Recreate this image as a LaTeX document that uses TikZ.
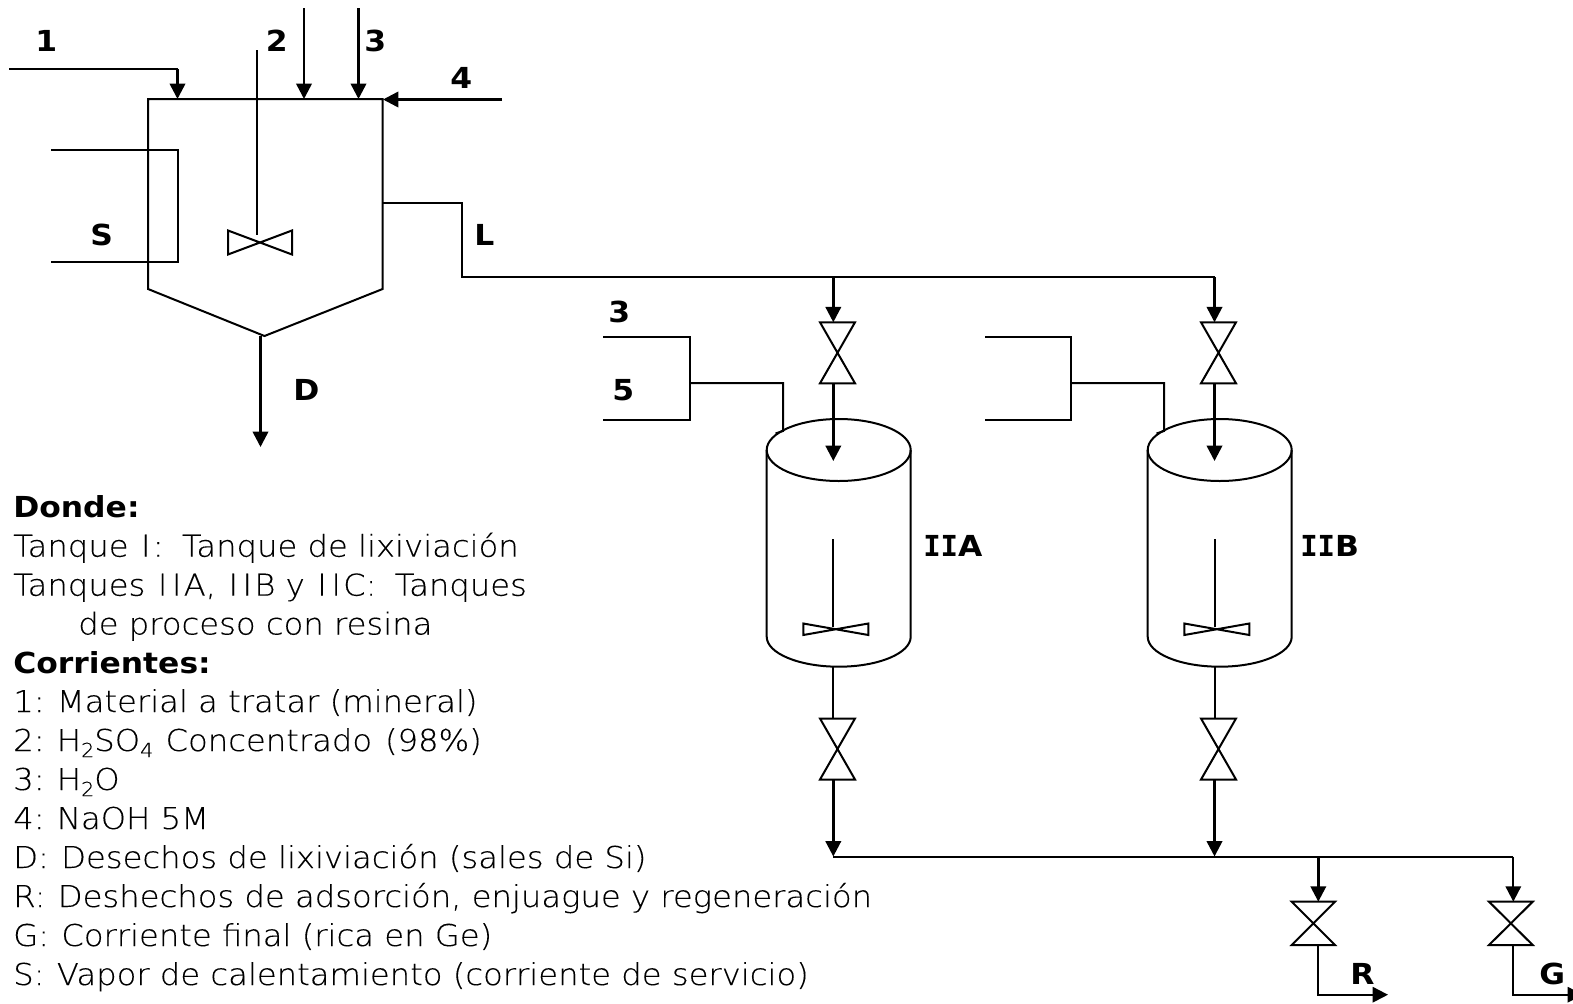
\documentclass[tikz,border=0pt]{standalone}
\usepackage{fontspec}
\usetikzlibrary{arrows.meta}
\setmainfont[FakeStretch=1.07,FakeBold=0.17]{DejaVu Sans ExtraLight}
\newfontfamily\boldf[FakeStretch=1.085]{DejaVu Sans Bold}
\newfontfamily\monob{DejaVu Sans Mono Bold}
\newcommand{\sbs}[1]{\raisebox{-.2em}{\fontsize{14.5}{15}\selectfont #1}}
\newcommand{\serifI}{{\monob I}}
\newcommand{\wI}{\kern1.7pt I\kern1.7pt}
\newcommand{\gp}{\ \kern1.5pt}
\newcommand{\gpw}{\ \kern6pt}
\tikzset{
  lbl/.style={inner sep=0pt,anchor=base west,font=\boldf\fontsize{21.7}{26}\selectfont},
  leg/.style={inner sep=0pt,anchor=base west,font=\fontsize{22.6}{27}\selectfont},
  legb/.style={inner sep=0pt,anchor=base west,font=\boldf\fontsize{21.7}{26}\selectfont},
  line/.style={line width=1.5pt,line join=miter},
  thinl/.style={line width=1.35pt},
  flow/.style={line width=1.9pt,-{Triangle[length=11.5pt,width=11.5pt]}},
  flowl/.style={line width=1.5pt,-{Triangle[length=11.5pt,width=11.5pt]}}
}
\newcommand{\valve}[5]{% name, left, right, top, bottom
  \draw[line] (#2,#4) -- (#3,#4) -- (#2,#5) -- (#3,#5) -- cycle;
  \coordinate (#1-t) at ({(#2+#3)/2},#4);
  \coordinate (#1-b) at ({(#2+#3)/2},#5);}
\begin{document}
\begin{tikzpicture}[x=0.75pt,y=-0.75pt]
\useasboundingbox (0,0) rectangle (1573,1003);
\clip (0,0) rectangle (1573,1003);
% Tank I
\coordinate (ta) at (148,99); \coordinate (tb) at (382.6,99);
\coordinate (tc) at (382.6,289); \coordinate (td) at (264.5,336);
\coordinate (te) at (148,289);
\draw[line] (ta) -- (tb) -- (tc) -- (td) -- (te) -- cycle;
% feeds
\coordinate (s1) at (9,69); \coordinate (k1) at (177.5,69); \coordinate (e1) at (177.5,99);
\draw[line] (s1) -- (k1);
\draw[flow] (k1) -- (e1);
\coordinate (s2) at (304,8); \coordinate (e2) at (304,99);
\draw[flow] (s2) -- (e2);
\coordinate (s3) at (358.5,8); \coordinate (e3) at (358.5,99);
\draw[flow] (s3) -- (e3);
\coordinate (s4) at (502,99.5); \coordinate (e4) at (383,99.5);
\draw[flow] (s4) -- (e4);
% shaft and impeller
\coordinate (sh1) at (257,50); \coordinate (sh2) at (257,235);
\draw[thinl] (sh1) -- (sh2);
\draw[line] (228,230.5) -- (292,254.5) -- (292,230.5) -- (228,254.5) -- cycle;
% S coil
\coordinate (c1) at (51,149.5); \coordinate (c2) at (177.5,149.5);
\coordinate (c3) at (177.5,261.5); \coordinate (c4) at (51,261.5);
\draw[line] (c1) -- (c2) -- (c3) -- (c4);
% outlet D
\coordinate (d1) at (260.5,336); \coordinate (d2) at (260.5,447);
\draw[flow] (d1) -- (d2);
% L
\coordinate (l1) at (382.6,202.5); \coordinate (l2) at (462,202.5);
\coordinate (l3) at (462,277); \coordinate (l4) at (1214.5,277);
\coordinate (la) at (833.3,277);
\draw[line] (l1) -- (l2) -- (l3) -- (l4);
% valves
\valve{va}{820}{855}{322.3}{383.3}
\valve{vb}{1201}{1236}{322.3}{383.3}
\valve{vc}{820}{855}{718.5}{779.5}
\valve{vd}{1201}{1236}{718.5}{779.5}
\valve{ve}{1291.7}{1335}{901.7}{945}
\valve{vf}{1489}{1532.7}{901.7}{945}
% top feeds of tanks
\coordinate (a1) at (833.3,322.3); \coordinate (a2) at (833.3,383.3); \coordinate (a3) at (833.3,461);
\coordinate (b1) at (1214.5,322.3); \coordinate (b2) at (1214.5,383.3); \coordinate (b3) at (1214.5,461);
\draw[flow] (la) -- (a1);
\draw[flow] (l4) -- (b1);
% tanks
\foreach \cx in {838.7,1219.7}{
  \draw[line] (\cx,450) ellipse [x radius=72,y radius=31];
  \draw[line] (\cx-72,450) -- (\cx-72,636.7) arc[start angle=180,end angle=0,x radius=72,y radius=30] -- (\cx+72,450);
}
\draw[flow] (a2) -- (a3);
\draw[flow] (b2) -- (b3);
% tank shafts and impellers
\coordinate (as1) at (833.3,539); \coordinate (as2) at (833.3,627);
\coordinate (bs1) at (1214.8,539); \coordinate (bs2) at (1214.8,627);
\draw[thinl] (as1) -- (as2);
\draw[thinl] (bs1) -- (bs2);
\draw[line] (803.3,623.5) -- (868.3,635) -- (868.3,623.5) -- (803.3,635) -- cycle;
\draw[line] (1184.3,623.5) -- (1249.3,635) -- (1249.3,623.5) -- (1184.3,635) -- cycle;
% side feeds
\coordinate (p1) at (603,336.7); \coordinate (p2) at (690,336.7);
\coordinate (p3) at (690,419.5); \coordinate (p4) at (603,419.5);
\coordinate (p5) at (690,383); \coordinate (p6) at (783,383); \coordinate (p7) at (783,431);
\coordinate (p8) at (775.5,433.5);
\draw[line] (p1) -- (p2) -- (p3) -- (p4);
\draw[line] (p5) -- (p6) -- (p7) -- (p8);
\coordinate (q1) at (985,336.7); \coordinate (q2) at (1071,336.7);
\coordinate (q3) at (1071,419.5); \coordinate (q4) at (985,419.5);
\coordinate (q5) at (1071,383); \coordinate (q6) at (1164,383); \coordinate (q7) at (1164,431);
\coordinate (q8) at (1156.5,433.5);
\draw[line] (q1) -- (q2) -- (q3) -- (q4);
\draw[line] (q5) -- (q6) -- (q7) -- (q8);
% bottoms
\coordinate (h0) at (833.3,856.5); \coordinate (h1) at (1214.5,856.5);
\coordinate (h2) at (1318.3,856.5); \coordinate (h3) at (1513.3,856.5);
\coordinate (a4) at (833.3,666.7); \coordinate (a5) at (833.3,718.5); \coordinate (a6) at (833.3,779.5);
\coordinate (b4) at (1214.8,666.7); \coordinate (b5) at (1214.8,718.5); \coordinate (b6) at (1214.5,779.5);
\draw[thinl] (a4) -- (a5);
\draw[thinl] (b4) -- (b5);
\draw[flow] (a6) -- (h0);
\draw[flow] (b6) -- (h1);
\draw[line] (h0) -- (h3);
\coordinate (r1) at (1318.3,901.7); \coordinate (g1) at (1513.3,901.7);
\draw[flow] (h2) -- (r1);
\draw[flowl] (h3) -- (g1);
\coordinate (r2) at (1318.3,945); \coordinate (r3) at (1318.3,994.7); \coordinate (r4) at (1388,994.7);
\coordinate (g2) at (1513.3,945); \coordinate (g3) at (1513.3,994.7); \coordinate (g4) at (1583,994.7);
\draw[flowl] (r2) -- (r3) -- (r4);
\draw[flowl] (g2) -- (g3) -- (g4);
% labels
\node[lbl] (n1) at (35,51) {1};
\node[lbl] (n2) at (265.5,51) {2};
\node[lbl] (n3) at (364,51) {3};
\node[lbl] (n4) at (450,88.5) {4};
\node[lbl] (nS) at (90,245) {S};
\node[lbl] (nL) at (474,245) {L};
\node[lbl] (nD) at (293,400.7) {D};
\node[lbl] (n3b) at (608,322.5) {3};
\node[lbl] (n5) at (612,400.7) {5};
\node[lbl] (nA) at (923,556.7) {\serifI\serifI A};
\node[lbl] (nB) at (1300,556.7) {\serifI\serifI B};
\node[lbl] (nR) at (1350,984) {R};
\node[lbl] (nG) at (1539,984) {G};
% legend
\node[legb] (t1) at (13,517.7) {Donde:};
\node[leg] (t2) at (13,556.7) {Tanque \wI:\gpw Tanque de lixiviación};
\node[leg] (t3) at (13,595.7) {Tanques \wI\wI A, \wI\wI B y \wI\wI C:\gpw Tanques};
\node[leg] (t4) at (78,634.5) {de proceso con resina};
\node[legb] (t5) at (13,673) {Corrientes:};
\node[leg] (t6) at (13,712) {1:\gp Material a tratar (mineral)};
\node[leg] (t7) at (13,751) {2:\gp H\sbs{2}SO\sbs{4}\kern1.5pt{} Concentrado\kern2pt{} (98\%)};
\node[leg] (t8) at (13,790) {3:\gp H\sbs{2}O};
\node[leg] (t9) at (13,829) {4:\gp NaOH 5M};
\node[leg] (t10) at (13,868) {D:\gp Desechos de lixiviación (sales de Si)};
\node[leg] (t11) at (13,907) {R:\gp Deshechos de adsorción, enjuague y regeneración};
\node[leg] (t12) at (13,946) {G:\gp Corriente final (rica en Ge)};
\node[leg] (t13) at (13,985) {S:\gp Vapor de calentamiento (corriente de servicio)};
\end{tikzpicture}
\end{document}
